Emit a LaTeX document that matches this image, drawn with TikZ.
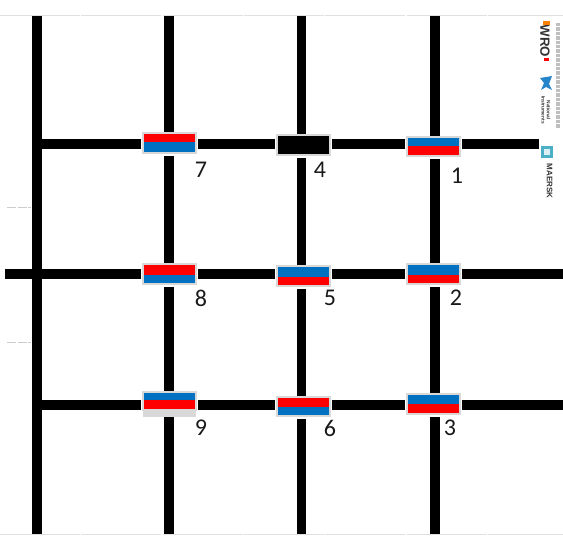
\documentclass[tikz,border=0pt]{standalone}
\usepackage{fontspec}
\setmainfont{Carlito}
\newfontfamily\logofont{Liberation Sans}
\definecolor{wblue}{RGB}{0,112,192}
\definecolor{wred}{RGB}{255,0,0}
\definecolor{halo}{RGB}{216,216,216}
\definecolor{teal1}{RGB}{75,175,200}
\tikzset{
  track/.style={line width=7pt,black},
  edge/.style={line width=0.9pt,halo!80,dash pattern=on 60pt off 1pt},
  tick/.style={line width=0.7pt,gray!40,dash pattern=on 7pt off 1pt},
  finetext/.style={line width=2.4pt,gray!50,dash pattern=on 2.5pt off 0.8pt},
  halobox/.style={fill=halo,inner sep=0pt,minimum width=41pt},
  clearbox/.style={fill=white,inner sep=0pt,minimum width=42.5pt},
  numlabel/.style={font=\fontsize{18}{18}\selectfont,text=black!90,inner sep=0pt},
  logotext/.style={rotate=-90,inner sep=0pt,text=black!80}
}
% name, x-left, y-top, y-mid, y-bottom, upper colour, lower colour
\newcommand{\junction}[7]{%
  \pgfmathsetmacro{\jh}{(#5-#3+6)*0.75}%
  \pgfmathsetmacro{\jg}{(#5-#3+4)*0.75}%
  \node[clearbox,minimum height=\jh pt] (#1c) at ({#2+25.5},{(#3+#5)/2+0.5}) {};
  \node[halobox,minimum height=\jg pt] (#1) at ({#2+25.5},{(#3+#5)/2}) {};
  \fill[#6] (#2,#3) rectangle ({#2+51},#4);
  \fill[#7] (#2,#4) rectangle ({#2+51},#5);
}
\begin{document}
\begin{tikzpicture}[x=0.75pt,y=-0.75pt]
\useasboundingbox (0,0) rectangle (563,536);
% page edges
\draw[edge] (0,15.5) -- (563,15.5);
\draw[edge] (0,534.5) -- (563,534.5);
\draw[tick] (7,207.5) -- (31,207.5);
\draw[tick] (7,342.5) -- (31,342.5);
% track end points
\coordinate (v0t) at (37,16);  \coordinate (v0b) at (37,534);
\coordinate (v1t) at (169,16); \coordinate (v1b) at (169,534);
\coordinate (v2t) at (301.5,16); \coordinate (v2b) at (301.5,534);
\coordinate (v3t) at (435,16); \coordinate (v3b) at (435,534);
\coordinate (h0l) at (37,144); \coordinate (h0r) at (539,144);
\coordinate (h1l) at (5,274);  \coordinate (h1r) at (563,274);
\coordinate (h2l) at (37,405); \coordinate (h2r) at (563,405);
\draw[track] (v0t) -- (v0b);
\draw[track] (v1t) -- (v1b);
\draw[track] (v2t) -- (v2b);
\draw[track] (v3t) -- (v3b);
\draw[track] (h0l) -- (h0r);
\draw[track] (h1l) -- (h1r);
\draw[track] (h2l) -- (h2r);
% junction blocks
\junction{j7}{144}{134}{142}{152}{wred}{wblue}
\junction{j4}{278}{136}{144}{154}{black}{black}
\junction{j1}{408}{138}{146}{155}{wblue}{wred}
\junction{j8}{144}{265}{275}{283}{wred}{wblue}
\junction{j5}{278}{267}{277}{285}{wblue}{wred}
\junction{j2}{408}{265}{275}{283}{wblue}{wred}
\junction{j9}{144}{393}{400}{409}{wblue}{wred}
\junction{j6}{278}{398}{407}{415}{wred}{wblue}
\junction{j3}{408}{395}{404}{413}{wblue}{wred}
\fill[halo] (143,409) rectangle (196,417);
% numbers
\node[numlabel] (n7) at (201,170) {7};
\node[numlabel] (n4) at (320,170) {4};
\node[numlabel] (n1) at (457,176) {1};
\node[numlabel] (n8) at (201,298) {8};
\node[numlabel] (n5) at (330,298) {5};
\node[numlabel] (n2) at (456,298) {2};
\node[numlabel] (n9) at (201,428) {9};
\node[numlabel] (n6) at (330,428) {6};
\node[numlabel] (n3) at (450,428) {3};
% logos
\draw[finetext] (558,23) -- (558,128);
\node[logotext,font=\logofont\bfseries\fontsize{10}{10}\selectfont] (wro) at (545,41) {WRO};
\fill[orange] (543,21) rectangle (550,25);
\fill[wred] (544,58) rectangle (549,61);
\fill[wblue!85] (540,78) -- (552,76) -- (549,84) -- (552,90) -- (546,87) -- (541,90) -- (544,83) -- cycle;
\node[logotext,font=\logofont\bfseries\fontsize{3.6}{4}\selectfont,align=center] (ni) at (546,110) {National\\Instruments};
\fill[teal1] (541,146) rectangle (553,158);
\fill[white!80!teal1] (544,149) rectangle (550,155);
\node[logotext,font=\logofont\bfseries\fontsize{6}{6}\selectfont] (mk) at (549.5,181) {MAERSK};
\end{tikzpicture}
\end{document}
